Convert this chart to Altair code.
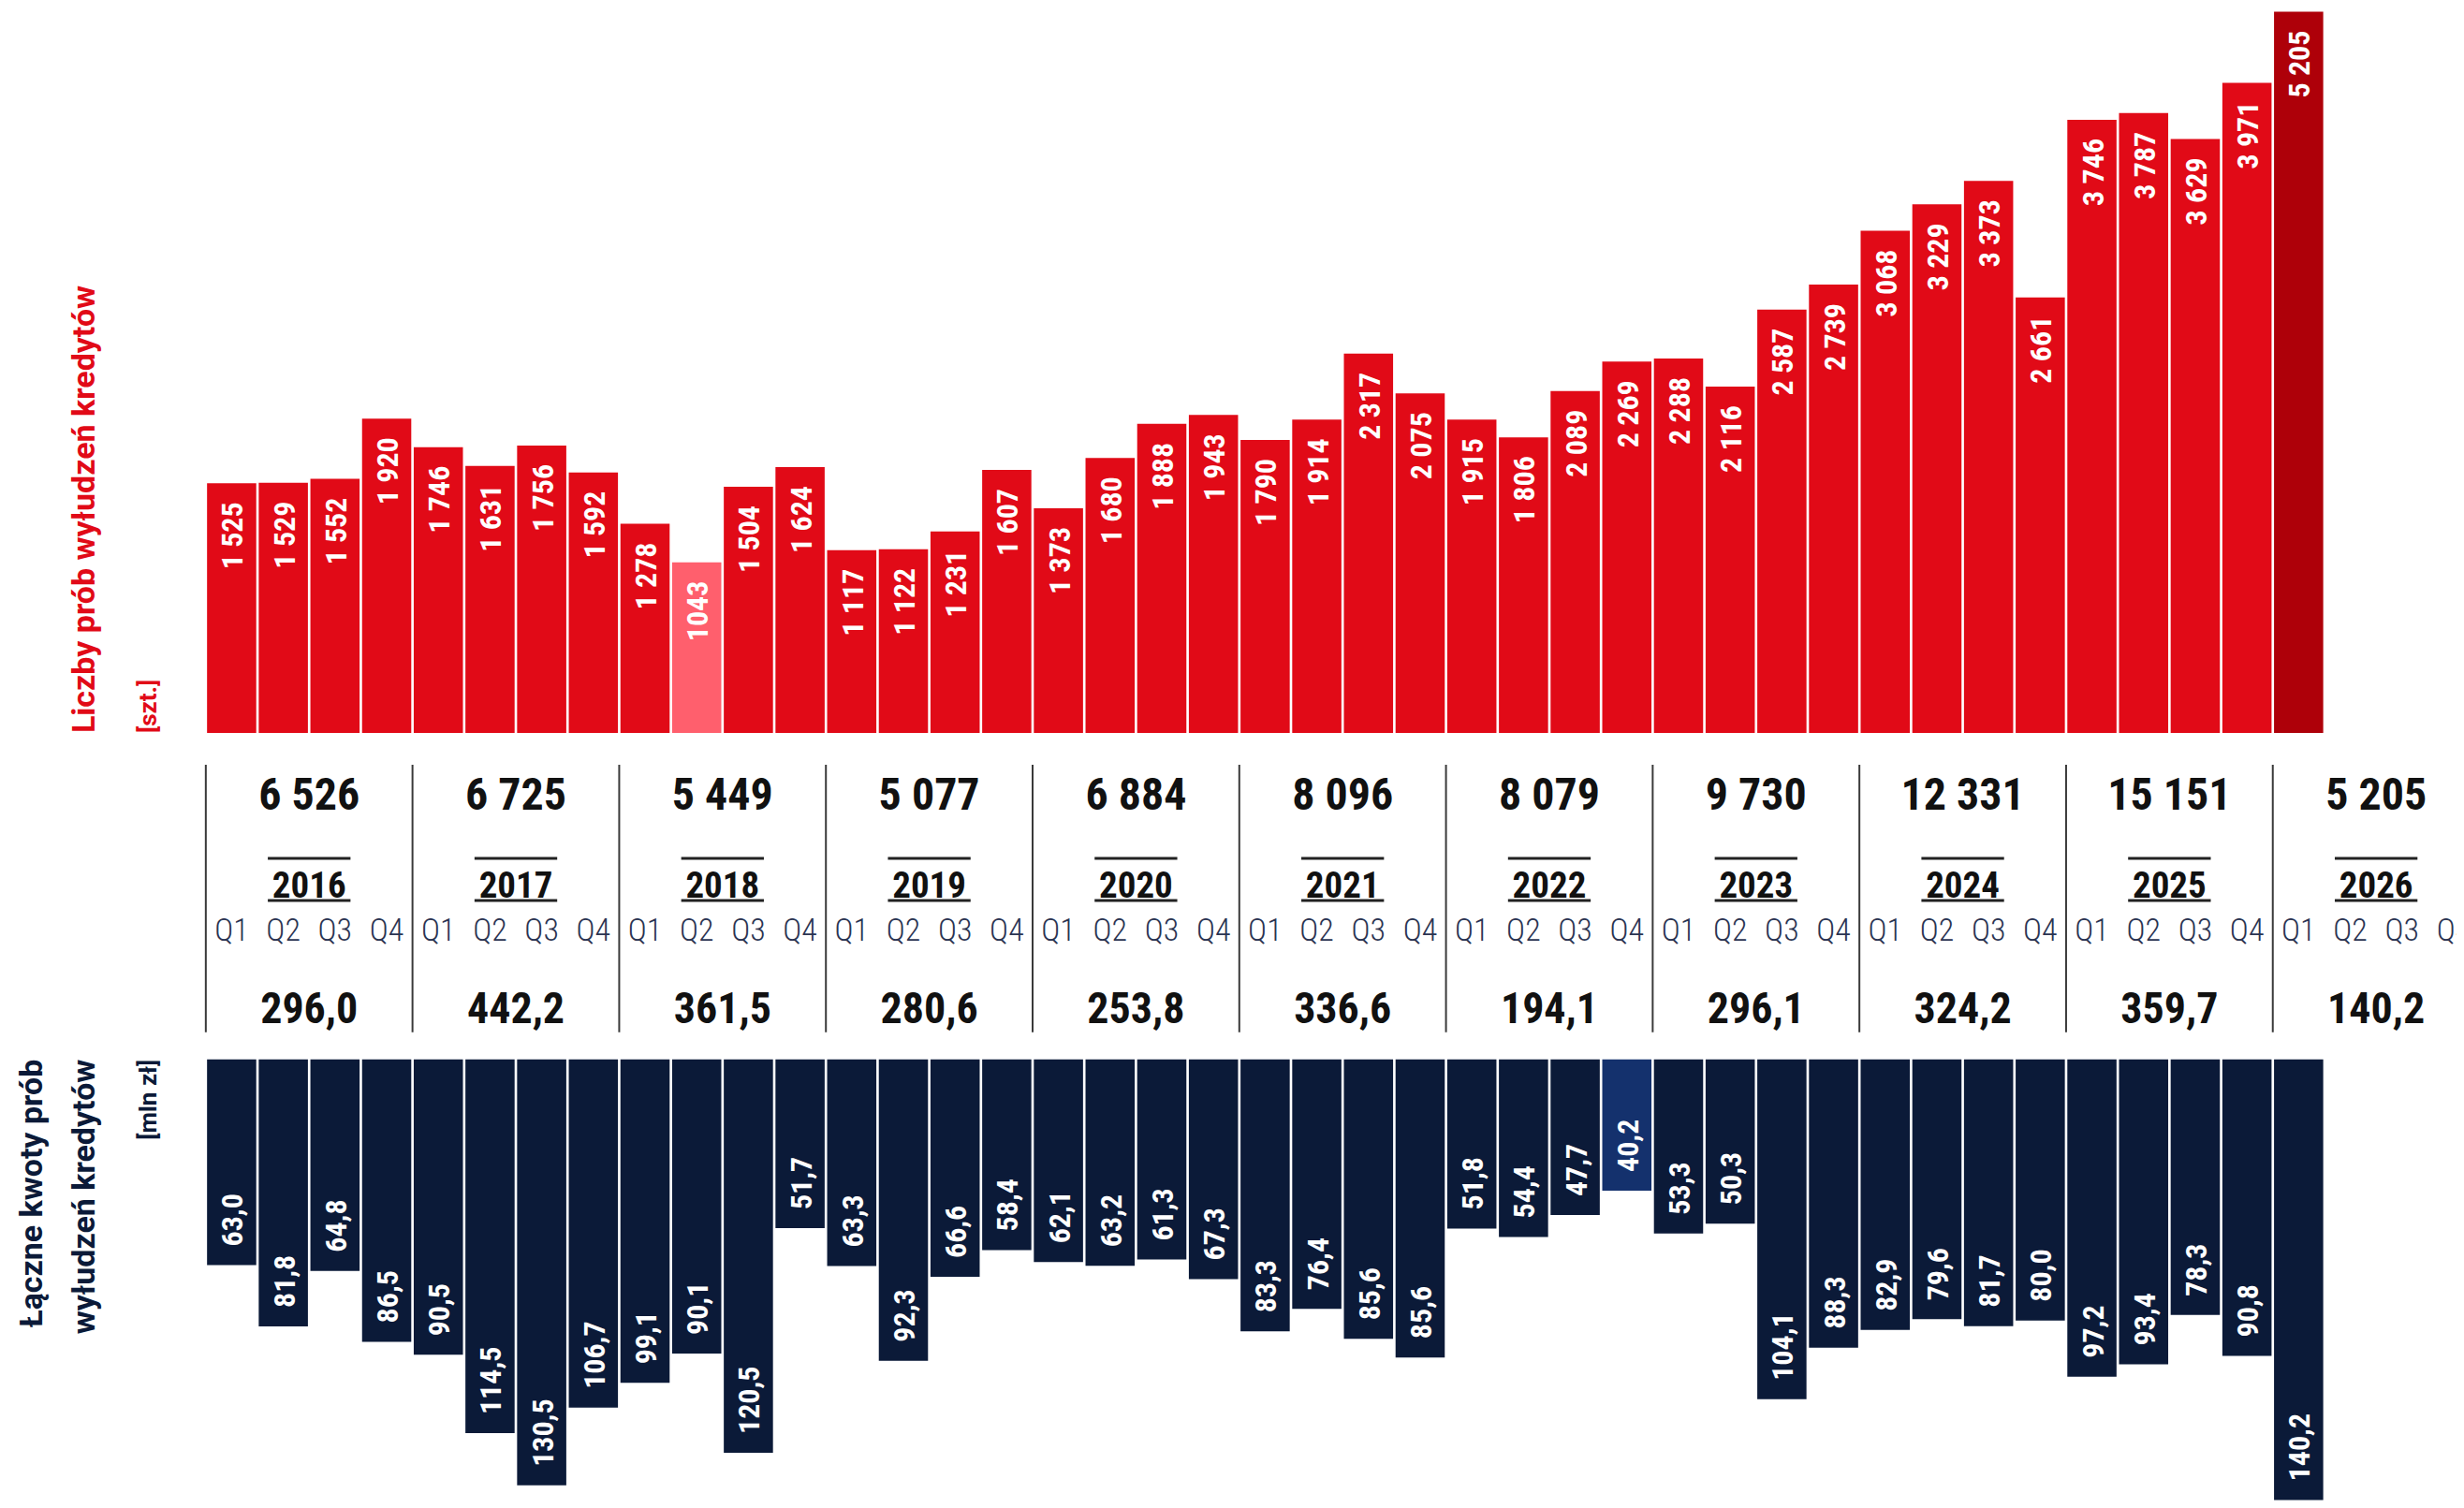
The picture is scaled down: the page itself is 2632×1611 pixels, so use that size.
import altair as alt
import pandas as pd

# ---------------- data ----------------
years = [2016, 2017, 2018, 2019, 2020, 2021, 2022, 2023, 2024, 2025, 2026]
quarter_names = ["Q1", "Q2", "Q3", "Q4"]

counts = [1525, 1529, 1552, 1920,
          1746, 1631, 1756, 1592,
          1278, 1043, 1504, 1624,
          1117, 1122, 1231, 1607,
          1373, 1680, 1888, 1943,
          1790, 1914, 2317, 2075,
          1915, 1806, 2089, 2269,
          2288, 2116, 2587, 2739,
          3068, 3229, 3373, 2661,
          3746, 3787, 3629, 3971,
          5205]

# bar lengths (mln zł) as drawn
amounts = [63.0, 81.8, 64.8, 86.5,
           90.5, 114.5, 130.5, 106.7,
           99.1, 90.1, 120.5, 51.7,
           63.3, 92.3, 66.6, 58.4,
           62.1, 63.2, 61.3, 67.3,
           83.3, 76.4, 85.6, 91.3,
           51.8, 54.4, 47.7, 40.2,
           53.3, 50.3, 104.1, 88.3,
           82.9, 79.6, 81.7, 80.0,
           97.2, 93.4, 78.3, 90.8,
           140.2]

# labels as printed on the bars
amount_labels = ["63,0", "81,8", "64,8", "86,5",
                 "90,5", "114,5", "130,5", "106,7",
                 "99,1", "90,1", "120,5", "51,7",
                 "63,3", "92,3", "66,6", "58,4",
                 "62,1", "63,2", "61,3", "67,3",
                 "83,3", "76,4", "85,6", "85,6",
                 "51,8", "54,4", "47,7", "40,2",
                 "53,3", "50,3", "104,1", "88,3",
                 "82,9", "79,6", "81,7", "80,0",
                 "97,2", "93,4", "78,3", "90,8",
                 "140,2"]

count_totals = ["6 526", "6 725", "5 449", "5 077", "6 884", "8 096",
                "8 079", "9 730", "12 331", "15 151", "5 205"]
amount_totals = ["296,0", "442,2", "361,5", "280,6", "253,8", "336,6",
                 "194,1", "296,1", "324,2", "359,7", "140,2"]

# ---------------- styles ----------------
RED = "#E10A17"
RED_LIGHT = "#FF5F6D"
RED_DARK = "#AE0009"
NAVY = "#0B1A38"
NAVY_LIGHT = "#14316D"
QCOL = "#2B3452"
FONT_N = ("Roboto Condensed, Noto Sans ExtraCondensed, Noto Sans Condensed, "
          "DejaVu Sans Condensed, sans-serif")
FONT_T = "Roboto, Liberation Sans, sans-serif"


def fmt_count(v):
    s = f"{v:,}".replace(",", " ")
    return s if v != 1043 else str(v)


n = len(counts)
bars = pd.DataFrame({
    "i": list(range(n)),
    "year": [years[k // 4] for k in range(n)],
    "quarter": [quarter_names[k % 4] for k in range(n)],
    "count": counts,
    "amount": amounts,
    "amount_label": amount_labels,
})
bars["qid"] = bars["year"].astype(str) + " " + bars["quarter"]
bars["count_label"] = [fmt_count(v) for v in counts]

yr = pd.DataFrame({
    "k": list(range(len(years))),
    "year": [str(y) for y in years],
    "count_total": count_totals,
    "amount_total": amount_totals,
})
qs = pd.DataFrame({
    "slot": list(range(len(years) * 4)),
    "q": [quarter_names[s % 4] for s in range(len(years) * 4)],
})

# ---------------- layout ----------------
SLOT_PX = 55.24
W = 2406
H_TOP, H_MID, H_BOT = 771, 349, 471
x_scale = alt.Scale(domain=[0, W / SLOT_PX], nice=False, zero=False)


def X(field):
    return alt.X(field, type="quantitative", scale=x_scale, axis=None)


# ---------------- top: counts ----------------
y_top = alt.Scale(domain=[0, H_TOP / 0.175], nice=False, clamp=True)
top_base = alt.Chart(bars).transform_calculate(
    x0="datum.i + 0.024", x1="datum.i + 0.976", xc="datum.i + 0.5",
    tone="datum.qid == '2018 Q2' ? 'light' : (datum.qid == '2026 Q1' ? 'dark' : 'base')",
)
top_bars = top_base.mark_rect().encode(
    x=X("x0"), x2="x1:Q",
    y=alt.Y("count:Q", scale=y_top, axis=None), y2=alt.datum(0),
    color=alt.Color("tone:N", scale=alt.Scale(domain=["base", "light", "dark"],
                                              range=[RED, RED_LIGHT, RED_DARK]), legend=None),
)
top_text = top_base.mark_text(
    angle=270, align="right", baseline="middle", dx=-20, dy=2,
    font=FONT_N, fontSize=32, fontWeight="bold", color="white",
).encode(x=X("xc"), y=alt.Y("count:Q", scale=y_top, axis=None), text="count_label:N")

top = alt.layer(top_bars, top_text).properties(
    width=W, height=H_TOP,
    title=alt.TitleParams(
        text="Liczby prób wyłudzeń kredytów", subtitle="[szt.]",
        orient="left", anchor="start", frame="group",
        font=FONT_T, fontSize=34, fontWeight="bold", color=RED,
        subtitleFont=FONT_T, subtitleFontSize=26, subtitleFontWeight="bold",
        subtitleColor=RED, offset=48, subtitlePadding=38,
    ),
)

# ---------------- middle: year labels ----------------
mid_base = alt.Chart(yr).transform_calculate(
    start="datum.k * 4", center="datum.k * 4 + 2",
    l="datum.k * 4 + 1.2", r="datum.k * 4 + 2.8",
)
seps = mid_base.mark_rule(color="#3A3A3A", strokeWidth=2).encode(
    x=X("start"), y=alt.value(34), y2=alt.value(320))
totals_c = mid_base.mark_text(font=FONT_N, fontSize=48, fontWeight="bold",
                              color="#111111", baseline="alphabetic").encode(
    x=X("center"), y=alt.value(82), text="count_total:N")
overline = mid_base.mark_rule(color="#222222", strokeWidth=3).encode(
    x=X("l"), x2="r:Q", y=alt.value(134))
underline = mid_base.mark_rule(color="#222222", strokeWidth=3).encode(
    x=X("l"), x2="r:Q", y=alt.value(179))
year_txt = mid_base.mark_text(font=FONT_N, fontSize=39, fontWeight="bold",
                              color="#111111", baseline="alphabetic").encode(
    x=X("center"), y=alt.value(176), text="year:N")
totals_a = mid_base.mark_text(font=FONT_N, fontSize=46, fontWeight="bold",
                              color="#111111", baseline="alphabetic").encode(
    x=X("center"), y=alt.value(310), text="amount_total:N")
q_txt = alt.Chart(qs).transform_calculate(xc="datum.slot + 0.5").mark_text(
    font=FONT_N, fontSize=34, fontWeight=300, color=QCOL, baseline="alphabetic", clip=True,
).encode(x=X("xc"), y=alt.value(222), text="q:N")

mid = alt.layer(seps, totals_c, overline, underline, year_txt, totals_a, q_txt).properties(
    width=W, height=H_MID)

# ---------------- bottom: amounts ----------------
y_bot = alt.Scale(domain=[0, H_BOT / 3.49], nice=False, clamp=True, reverse=True)
bot_base = alt.Chart(bars).transform_calculate(
    x0="datum.i + 0.024", x1="datum.i + 0.976", xc="datum.i + 0.5",
    tone2="datum.qid == '2022 Q4' ? 'hl' : 'normal'",
)
bot_bars = bot_base.mark_rect().encode(
    x=X("x0"), x2="x1:Q",
    y=alt.Y("amount:Q", scale=y_bot, axis=None), y2=alt.datum(0),
    color=alt.Color("tone2:N", scale=alt.Scale(domain=["normal", "hl"],
                                               range=[NAVY, NAVY_LIGHT]), legend=None),
)
bot_text = bot_base.mark_text(
    angle=270, align="left", baseline="middle", dx=20, dy=2,
    font=FONT_N, fontSize=32, fontWeight="bold", color="white",
).encode(x=X("xc"), y=alt.Y("amount:Q", scale=y_bot, axis=None), text="amount_label:N")

bot = alt.layer(bot_bars, bot_text).properties(
    width=W, height=H_BOT,
    title=alt.TitleParams(
        text=["Łączne kwoty prób", "wyłudzeń kredytów"], subtitle="[mln zł]",
        orient="left", anchor="end", frame="group", lineHeight=56,
        font=FONT_T, fontSize=34, fontWeight="bold", color=NAVY,
        subtitleFont=FONT_T, subtitleFontSize=26, subtitleFontWeight="bold",
        subtitleColor=NAVY, offset=48, subtitlePadding=38,
    ),
)

chart = alt.vconcat(top, mid, bot, spacing=0).resolve_scale(
    color="independent"
).properties(
    padding={"left": 9, "top": 4, "right": 0, "bottom": 0},
).configure_view(stroke=None)

chart.save("out.html", embed_options={"renderer": "svg", "actions": False})
